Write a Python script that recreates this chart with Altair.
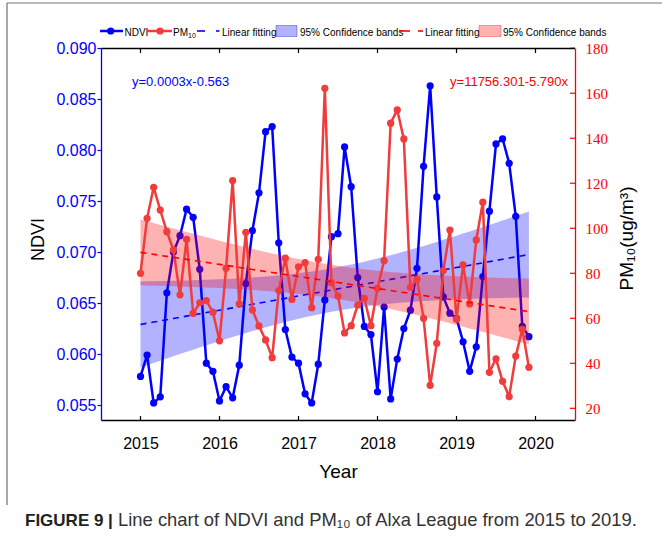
import altair as alt
import numpy as np
import pandas as pd

# ---------------- data ----------------
years = [2015, 2016, 2017, 2018, 2019]
month_idx = list(range(12))

ndvi = [
    0.0578, 0.0599, 0.0552, 0.0558, 0.0660, 0.0700, 0.0716, 0.0742, 0.0734, 0.0683, 0.0591, 0.0583,
    0.0554, 0.0568, 0.0557, 0.0589, 0.0669, 0.0721, 0.0758, 0.0818, 0.0823, 0.0709, 0.0624, 0.0597,
    0.0591, 0.0561, 0.0552, 0.0590, 0.0653, 0.0715, 0.0718, 0.0803, 0.0764, 0.0675, 0.0627, 0.0619,
    0.0563, 0.0646, 0.0556, 0.0595, 0.0625, 0.0643, 0.0684, 0.0784, 0.0863, 0.0754, 0.0656, 0.0640,
    0.0635, 0.0612, 0.0583, 0.0607, 0.0676, 0.0740, 0.0806, 0.0811, 0.0787, 0.0735, 0.0627, 0.0617,
]
pm10 = [
    80.0, 104.4, 118.2, 108.1, 98.5, 90.4, 70.4, 95.1, 62.2, 66.9, 67.8, 62.7,
    50.0, 82.2, 121.2, 66.4, 98.2, 63.7, 56.6, 50.4, 42.5, 72.3, 86.7, 68.4,
    82.9, 84.7, 64.7, 86.2, 162.2, 75.8, 69.9, 53.5, 56.7, 65.9, 68.9, 56.7,
    73.3, 85.6, 146.7, 152.6, 139.7, 73.8, 77.3, 60.0, 30.2, 48.9, 81.2, 99.2,
    59.6, 83.7, 66.4, 94.8, 111.6, 36.0, 42.0, 32.0, 25.2, 43.2, 55.1, 38.2,
]
x_ticks = [2015, 2016, 2017, 2018, 2019, 2020]
ndvi_ticks = [0.055, 0.060, 0.065, 0.070, 0.075, 0.080, 0.085, 0.090]
pm_ticks = [20, 40, 60, 80, 100, 120, 140, 160, 180]

xs = [y + m / 12 for y in years for m in month_idx]


def linfit(xv, yv, t=2.0017):
    X = np.asarray(xv, float)
    Y = np.asarray(yv, float)
    b, a = np.polyfit(X, Y, 1)
    yhat = a + b * X
    n = len(X)
    s = np.sqrt(((Y - yhat) ** 2).sum() / (n - 2))
    se = s * np.sqrt(1 / n + (X - X.mean()) ** 2 / ((X - X.mean()) ** 2).sum())
    return yhat, yhat - t * se, yhat + t * se


nf, nlo, nhi = linfit(xs, ndvi)
pf, plo, phi = linfit(xs, pm10)

df = pd.DataFrame({
    "x": xs, "ndvi": ndvi, "pm": pm10,
    "nf": nf, "nlo": nlo, "nhi": nhi,
    "pf": pf, "plo": plo, "phi": phi,
})
df_xt = pd.DataFrame({"x": x_ticks})
df_pt = pd.DataFrame({"v": pm_ticks})
one = pd.DataFrame({"a": [0]})

BLUE = "#0000ff"
RED = "#f03c3c"
SANS = "Liberation Sans"

xscale = alt.Scale(domain=[2014.5, 2020.5], nice=False, zero=False)
nscale = alt.Scale(domain=[0.05353, 0.090], nice=False, zero=False)
pscale = alt.Scale(domain=[14.8, 180.1], nice=False, zero=False)


def X(field="x:Q"):
    return alt.X(field, scale=xscale, axis=None)


def YN(field):
    return alt.Y(field, scale=nscale, axis=None)


def YP(field):
    return alt.Y(field, scale=pscale, axis=None)


base = alt.Chart(df)

x_axis = alt.Axis(
    title="Year", values=x_ticks, format="d", grid=False, ticks=False,
    labelFont=SANS, labelFontSize=16, labelColor="black", labelPadding=28,
    labelBaseline="alphabetic", domainColor="black", domainWidth=1.3,
    titleFont=SANS, titleFontSize=19, titleFontWeight="normal", titleColor="black",
    titleY=57, titleBaseline="alphabetic")
n_axis = alt.Axis(
    title="NDVI", values=ndvi_ticks, format=".3f", grid=False,
    labelFont=SANS, labelFontSize=16, labelColor=BLUE, labelPadding=1,
    tickColor=BLUE, tickSize=4, tickWidth=1.2, domainColor=BLUE, domainWidth=1.3,
    titleFont=SANS, titleFontSize=18, titleFontWeight="normal", titleColor="black",
    titleAngle=270, titleX=-63, titleY=191, titleBaseline="middle", titleAlign="center")
p_axis = alt.Axis(
    orient="right", title="PM\u2081\u2080(ug/m\u00b3)", values=pm_ticks, format="d",
    grid=False, ticks=False, labelFont="Liberation Serif", labelFontSize=15,
    labelColor="#ff0000", labelPadding=10, domainColor="#ff0000", domainWidth=1.3,
    titleFont=SANS, titleFontSize=19, titleFontWeight="normal", titleColor="black",
    titleAngle=270, titleX=51, titleY=190, titleBaseline="middle", titleAlign="center")

# ---------------- NDVI ----------------
band_b = base.mark_area(color=BLUE, opacity=0.3).encode(
    x=X(), y=YN("nlo:Q"), y2="nhi:Q")
line_b = base.mark_line(color=BLUE, strokeWidth=2.5).encode(
    x=alt.X("x:Q", scale=xscale, axis=x_axis),
    y=alt.Y("ndvi:Q", scale=nscale, axis=n_axis))
pts_b = base.mark_circle(color=BLUE, size=52, opacity=1).encode(x=X(), y=YN("ndvi:Q"))
fit_b = base.mark_line(color=BLUE, strokeWidth=1.6, strokeDash=[6, 5]).encode(
    x=X(), y=YN("nf:Q"))

# ---------------- PM10 ----------------
band_r = base.mark_area(color="#ff0000", opacity=0.3).encode(
    x=X(), y=YP("plo:Q"), y2="phi:Q")
line_r = base.mark_line(color=RED, strokeWidth=2.5).encode(
    x=X(), y=alt.Y("pm:Q", scale=pscale, axis=p_axis))
pts_r = base.mark_circle(color=RED, size=52, opacity=1).encode(x=X(), y=YP("pm:Q"))
fit_r = base.mark_line(color="#ff0000", strokeWidth=1.6, strokeDash=[6, 5]).encode(
    x=X(), y=YP("pf:Q"))

# ---------------- frame, inward ticks ----------------
tick_bot = alt.Chart(df_xt).mark_rule(color="black", strokeWidth=1.2).encode(
    x=X(), y=alt.value(372), y2=alt.value(368))
tick_top = alt.Chart(df_xt).mark_rule(color="black", strokeWidth=1.2).encode(
    x=X(), y=alt.value(0.5), y2=alt.value(5))
tick_r = alt.Chart(df_pt).mark_rule(color="#ff0000", strokeWidth=1.2).encode(
    y=YP("v:Q"), x=alt.value(474), x2=alt.value(469))
top_line = alt.Chart(one).mark_rule(color="black", strokeWidth=1.3).encode(
    x=alt.value(0.5), x2=alt.value(474), y=alt.value(0.5))
frame_top = alt.Chart(one).mark_rule(color="#777777", strokeWidth=1).encode(
    x=alt.value(-94), x2=alt.value(561), y=alt.value(-45))
frame_left = alt.Chart(one).mark_rule(color="#555555", strokeWidth=1).encode(
    x=alt.value(-94), y=alt.value(-45), y2=alt.value(457))

eq_b = alt.Chart(one).mark_text(
    text="y=0.0003x-0.563", color=BLUE, font=SANS, fontSize=13,
    align="left", baseline="alphabetic").encode(x=alt.value(31), y=alt.value(38))
eq_r = alt.Chart(one).mark_text(
    text="y=11756.301-5.790x", color="#ff0000", font=SANS, fontSize=13,
    align="right", baseline="alphabetic").encode(x=alt.value(467), y=alt.value(38))

# ---------------- legend (drawn above the plot) ----------------
LY = -17
TY = -12.5


def leg_text(txt, x0, size=10, dy=0):
    return alt.Chart(one).mark_text(text=txt, font=SANS, fontSize=size, color="black",
                                    align="left", baseline="alphabetic").encode(
        x=alt.value(x0), y=alt.value(TY + dy))


def leg_line(x0, x1, col, w=2.5):
    return alt.Chart(one).mark_rule(color=col, strokeWidth=w).encode(
        x=alt.value(x0), x2=alt.value(x1), y=alt.value(LY))


def leg_dot(x0, col):
    return alt.Chart(one).mark_circle(color=col, size=52, opacity=1).encode(
        x=alt.value(x0), y=alt.value(LY))


def leg_box(x0, x1, col):
    return alt.Chart(one).mark_rect(fill=col, fillOpacity=0.3, stroke=col,
                                    strokeOpacity=0.35, strokeWidth=1).encode(
        x=alt.value(x0), x2=alt.value(x1), y=alt.value(LY - 5.5), y2=alt.value(LY + 5.5))


legend = [
    leg_line(-1, 22, BLUE), leg_dot(9.7, BLUE), leg_text("NDVI", 23.5),
    leg_line(46, 71, RED), leg_dot(59, RED), leg_text("PM", 72), leg_text("10", 87, 7, 2),
    leg_line(96, 104, BLUE, 1.6), leg_line(115, 118.5, BLUE, 1.6),
    leg_text("Linear fitting", 121),
    leg_box(175, 196, BLUE), leg_text("95% Confidence bands", 199),
    leg_line(298, 309, "#ff0000", 1.6), leg_line(317, 322, "#ff0000", 1.6),
    leg_text("Linear fitting", 324),
    leg_box(378, 400, "#ff0000"), leg_text("95% Confidence bands", 402),
]

cap_bold = alt.Chart(one).mark_text(
    text="FIGURE 9 |", font=SANS, fontSize=17, fontWeight="bold", color="#222222",
    align="left", baseline="alphabetic").encode(x=alt.value(-76), y=alt.value(478))
cap_norm = alt.Chart(one).mark_text(
    text="Line chart of NDVI and PM\u2081\u2080 of Alxa League from 2015 to 2019.",
    font=SANS, fontSize=18.4, color="#333333",
    align="left", baseline="alphabetic").encode(x=alt.value(17), y=alt.value(478))

chart = alt.layer(
    band_b, line_b, pts_b, fit_b,
    band_r, line_r, pts_r, fit_r,
    tick_bot, tick_top, tick_r, top_line, frame_top, frame_left,
    eq_b, eq_r, *legend, cap_bold, cap_norm,
).resolve_scale(x="independent", y="independent").properties(
    width=474, height=372,
    autosize=alt.AutoSizeParams(type="none"),
    padding={"left": 101, "top": 48, "right": 87, "bottom": 130},
    background="white",
).configure_view(stroke=None)

chart.save("out.html", embed_options={"renderer": "svg", "actions": False})
